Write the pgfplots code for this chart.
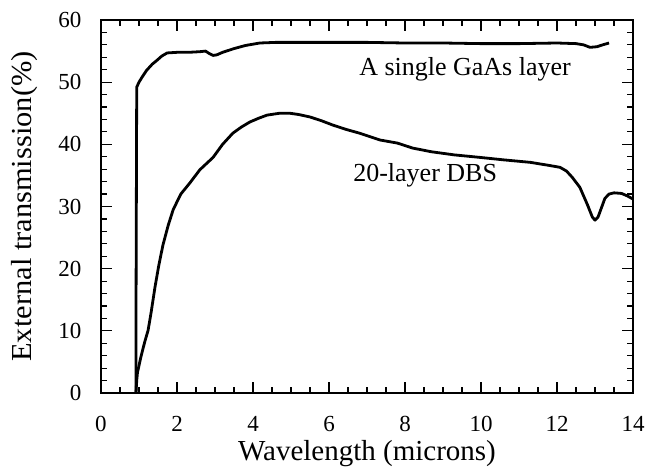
\documentclass[border=0pt]{standalone}
\usepackage{pgfplots}
\pgfplotsset{compat=1.18}
\usepackage{fontspec}
\setmainfont{Liberation Serif}
\begin{document}
\begin{tikzpicture}
\useasboundingbox (-101bp,-77bp) rectangle (547bp,393bp);
\begin{axis}[
  scale only axis,
  width=532bp, height=373bp,
  xmin=0, xmax=14, ymin=0, ymax=60,
  xtick={0,2,...,14}, ytick={0,10,...,60},
  minor x tick num=3, minor y tick num=4,
  tick align=inside,
  major tick length=11bp, minor tick length=6bp,
  every tick/.style={black, line width=1.2bp},
  axis line style={line width=2.2bp},
  xlabel={Wavelength (microns)},
  ylabel={External transmission(\%)},
  /pgf/number format/assume math mode=true,
  tick label style={font=\fontsize{23bp}{27bp}\selectfont},
  xlabel style={font=\fontsize{29bp}{32bp}\selectfont, yshift=-1bp},
  ylabel style={font=\fontsize{29bp}{32bp}\selectfont\addfontfeatures{FakeStretch=1.05}, yshift=14bp},
  xticklabel style={yshift=-20bp},
  yticklabel style={xshift=-16bp},
  clip=false,
]
\addplot[black, line width=2.8bp, line join=round] coordinates {
(0.92,0) (0.92,10) (0.93,30) (0.94,49.2) (1.0,50.0) (1.08,50.8) (1.2,51.9) (1.35,52.9)
(1.47,53.5) (1.6,54.2) (1.74,54.7) (2.0,54.8) (2.3,54.8) (2.6,54.9) (2.75,55.0)
(2.85,54.6) (2.95,54.3) (3.05,54.4) (3.2,54.8) (3.5,55.4) (3.8,55.9) (4.18,56.3)
(4.6,56.4) (5,56.4) (6,56.4) (7,56.4) (8,56.3) (9,56.3) (10,56.2) (11,56.2) (12,56.3)
(12.5,56.2) (12.7,56.0) (12.87,55.6) (13.05,55.7) (13.2,56.0) (13.37,56.3)
};
\addplot[black, line width=2.8bp, line join=round] coordinates {
(0.92,0) (0.94,2) (0.96,3.3) (1.05,5.8) (1.15,8.2) (1.24,10.1) (1.32,13) (1.42,17)
(1.52,20.5) (1.63,23.8) (1.77,27) (1.9,29.5) (2.1,32) (2.34,33.8) (2.6,35.9) (2.95,37.9)
(3.2,40.0) (3.47,41.8) (3.7,42.8) (3.92,43.6) (4.15,44.2) (4.37,44.7) (4.7,45.0)
(4.97,45.0) (5.2,44.8) (5.5,44.4) (5.8,43.8) (6.1,43.1) (6.45,42.4) (6.8,41.8)
(7.34,40.7) (7.8,40.2) (8.2,39.4) (8.7,38.8) (9.3,38.3) (9.97,37.9) (10.6,37.5)
(11.3,37.1) (11.8,36.6) (12.08,36.3) (12.25,35.7) (12.4,34.7) (12.6,33.1) (12.8,30.3)
(12.93,28.3) (13.0,27.8) (13.08,28.3) (13.17,29.8) (13.26,31.3) (13.37,32.0)
(13.5,32.2) (13.7,32.1) (13.85,31.7) (14,31.2)
};
\node[font=\fontsize{26bp}{30bp}\selectfont] at (axis cs:9.58,52.0) {A single GaAs layer};
\node[font=\fontsize{26bp}{30bp}\selectfont] at (axis cs:8.53,35.0) {20-layer DBS};
\end{axis}
\end{tikzpicture}
\end{document}
